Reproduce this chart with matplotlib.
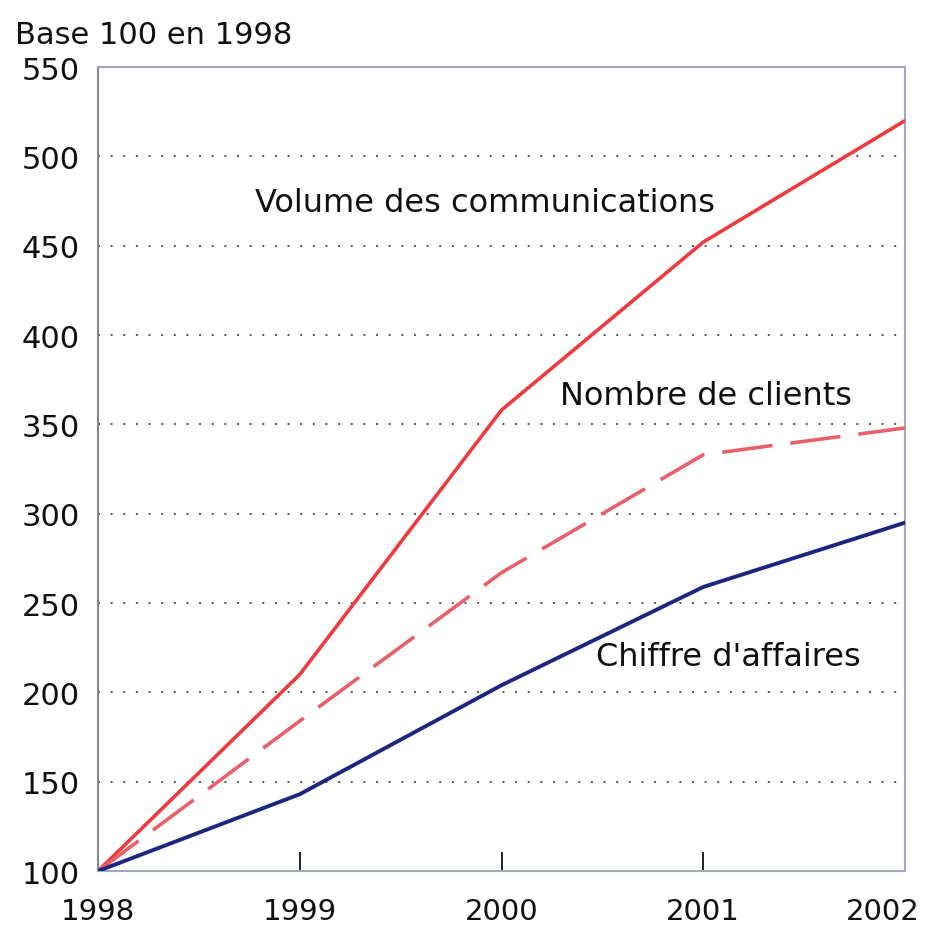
import matplotlib
matplotlib.use("Agg")
import matplotlib.pyplot as plt
from matplotlib.transforms import ScaledTranslation

years = [1998, 1999, 2000, 2001, 2002]
volume = [100, 210, 358, 452, 520]
clients = [100, 184, 267, 333, 348]
chiffre = [100, 143, 204, 259, 295]
yticks = [100, 150, 200, 250, 300, 350, 400, 450, 500, 550]

fig = plt.figure(figsize=(9.29, 9.28), dpi=100)
ax = fig.add_axes([0.1055, 0.0603, 0.8687, 0.8664])

ax.plot(years, volume, color="#ee3b3f", lw=2.6, solid_capstyle="round", zorder=3)
ax.plot(years, clients, color="#e8606a", lw=2.6, dashes=(14, 5), zorder=3)
ax.plot(years, chiffre, color="#1c2680", lw=2.8, zorder=3)

ax.set_xlim(1998, 2002)
ax.set_ylim(100, 550)
ax.set_yticks(yticks)
ax.set_xticks(years)
ax.set_xticklabels([str(y) for y in years])

for v in yticks[1:-1]:
    ax.axhline(v, color="#555555", lw=1.4, linestyle=(0, (1, 5.5)), zorder=1)

for s in ax.spines.values():
    s.set_color("#a0a8c4")
    s.set_linewidth(1.5)
ax.spines["left"].set_color("#888888")

ax.tick_params(axis="y", length=0, pad=13, labelsize=22, colors="#111111")
ax.tick_params(axis="x", direction="in", length=14, width=1.3, color="#111111",
               pad=19, labelsize=21, labelcolor="#111111")

labels = ax.get_xticklabels()
labels[-1].set_transform(labels[-1].get_transform() + ScaledTranslation(-0.22, 0, fig.dpi_scale_trans))

fig.text(0.016, 0.962, "Base 100 en 1998", fontsize=22, color="#111111", va="center", ha="left")

ax.text(1998.78, 474, "Volume des communications", fontsize=23, color="#111111", va="center", ha="left")
ax.text(2000.29, 366, "Nombre de clients", fontsize=23, color="#111111", va="center", ha="left")
ax.text(2000.47, 220, "Chiffre d'affaires", fontsize=23, color="#111111", va="center", ha="left")

fig.savefig("out.png", dpi=100)
